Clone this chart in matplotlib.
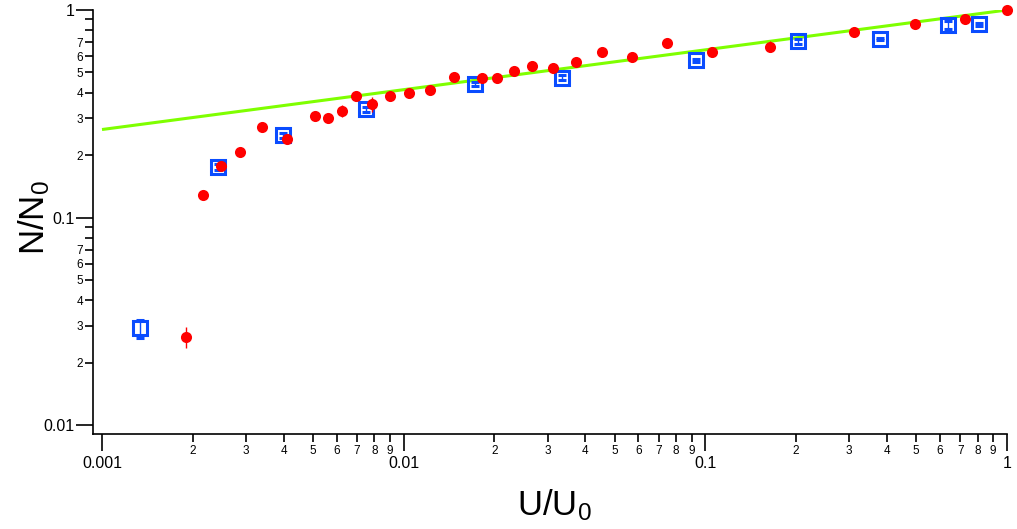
import numpy as np
import matplotlib
matplotlib.use("Agg")
import matplotlib.pyplot as plt
from matplotlib.ticker import LogLocator, FuncFormatter

plt.rcParams['font.family'] = ['Liberation Sans', 'DejaVu Sans']
plt.rcParams['mathtext.fontset'] = 'custom'
plt.rcParams['mathtext.rm'] = 'Liberation Sans'
plt.rcParams['mathtext.it'] = 'Liberation Sans'

# ---- data ----
red_x = [0.0019, 0.00216, 0.00248, 0.00287, 0.00339, 0.0041, 0.00509, 0.00561,
         0.00625, 0.00695, 0.00785, 0.00899, 0.0104, 0.01224, 0.01473, 0.01815,
         0.0204, 0.0232, 0.02673, 0.0312, 0.0372, 0.0453, 0.0571, 0.0748,
         0.105, 0.1636, 0.31, 0.4955, 0.726, 1.0]
red_y = [0.0266, 0.129, 0.178, 0.2075, 0.272, 0.239, 0.308, 0.303,
         0.327, 0.386, 0.351, 0.386, 0.398, 0.410, 0.477, 0.472,
         0.469, 0.508, 0.539, 0.524, 0.562, 0.625, 0.592, 0.691,
         0.630, 0.666, 0.786, 0.856, 0.902, 1.0]
red_err = [0.0032, 0.004, 0.006, 0.012, 0.008, 0.007, 0.009, 0.009,
           0.023, 0.009, 0.029, 0.009, 0.009, 0.009, 0.011, 0.011,
           0.011, 0.017, 0.017, 0.017, 0.013, 0.014, 0.02, 0.024,
           0.014, 0.042, 0.042, 0.02, 0.02, 0.02]

blue_x = [0.001337, 0.00242, 0.00398, 0.00748, 0.01726, 0.03356, 0.0929,
          0.2021, 0.378, 0.6377, 0.808]
blue_y = [0.0292, 0.1746, 0.2497, 0.333, 0.4396, 0.472, 0.572,
          0.706, 0.725, 0.847, 0.853]
blue_err = [0.0029, 0.006, 0.007, 0.009, 0.01, 0.014, 0.01,
            0.02, 0.01, 0.04, 0.015]

fit_amplitude = 1.0
fit_exponent = 0.192
fit_xrange = [0.001, 1.0]

xlabel = r'$\mathregular{U/U_0}$'
ylabel = r'$\mathregular{N/N_0}$'

# ---- figure ----
fig = plt.figure(figsize=(10.17, 5.29), dpi=100)
ax = fig.add_axes([93/1017, 95/529, 914/1017, 424/529])

fx = np.logspace(np.log10(fit_xrange[0]), np.log10(fit_xrange[1]), 200)
fy = fit_amplitude * fx ** fit_exponent
ax.plot(fx, fy, color='#7fff00', lw=2.2, zorder=2, solid_capstyle='butt')

ax.errorbar(blue_x, blue_y, yerr=blue_err, fmt='s', ms=10, mfc='none',
            mec='#0a4cff', mew=2.2, ecolor='#0a4cff', elinewidth=1.0,
            capsize=3, capthick=1.0, zorder=3, clip_on=False)
ax.errorbar(red_x, red_y, yerr=red_err, fmt='o', ms=8, mfc='#ff0000',
            mec='#ff0000', mew=0, ecolor='#ff0000', elinewidth=1.0,
            capsize=3.8, capthick=1.0, zorder=4, clip_on=False)

ax.set_xscale('log')
ax.set_yscale('log')
ax.set_xlim(10 ** (-3 - 9/301.3), 1.0)
ax.set_ylim(10 ** (-2 - 9/207.5), 1.0)

for s in ['top', 'right']:
    ax.spines[s].set_visible(False)
for s in ['left', 'bottom']:
    ax.spines[s].set_linewidth(1.2)

ax.xaxis.set_major_locator(LogLocator(base=10, numticks=10))
ax.yaxis.set_major_locator(LogLocator(base=10, numticks=10))
ax.xaxis.set_minor_locator(LogLocator(base=10, subs=np.arange(2, 10), numticks=20))
ax.yaxis.set_minor_locator(LogLocator(base=10, subs=np.arange(2, 10), numticks=20))


def mant(v):
    e = np.floor(np.log10(v) + 1e-9)
    return int(round(v / 10 ** e))


def major_fmt(v, pos):
    return '{:g}'.format(v)


ax.xaxis.set_major_formatter(FuncFormatter(major_fmt))
ax.yaxis.set_major_formatter(FuncFormatter(major_fmt))
ax.xaxis.set_minor_formatter(FuncFormatter(lambda v, p: str(mant(v))))
ax.yaxis.set_minor_formatter(FuncFormatter(lambda v, p: str(mant(v)) if mant(v) <= 7 else ''))

ax.tick_params(which='major', axis='x', length=12, width=1.2, labelsize=11.5, pad=4)
ax.tick_params(which='minor', axis='x', length=6, width=1.2, labelsize=8.5, pad=2)
ax.tick_params(which='major', axis='y', length=12, width=1.2, labelsize=11.5, pad=1)
ax.tick_params(which='minor', axis='y', length=6, width=1.2, labelsize=8.5, pad=1)

ax.set_xlabel(xlabel, fontsize=25, va='top')
ax.xaxis.set_label_coords(0.505, -0.125)
ax.set_ylabel(ylabel, fontsize=25)
ax.yaxis.set_label_coords(-0.045, 0.51)

fig.savefig('out.png', dpi=100)
